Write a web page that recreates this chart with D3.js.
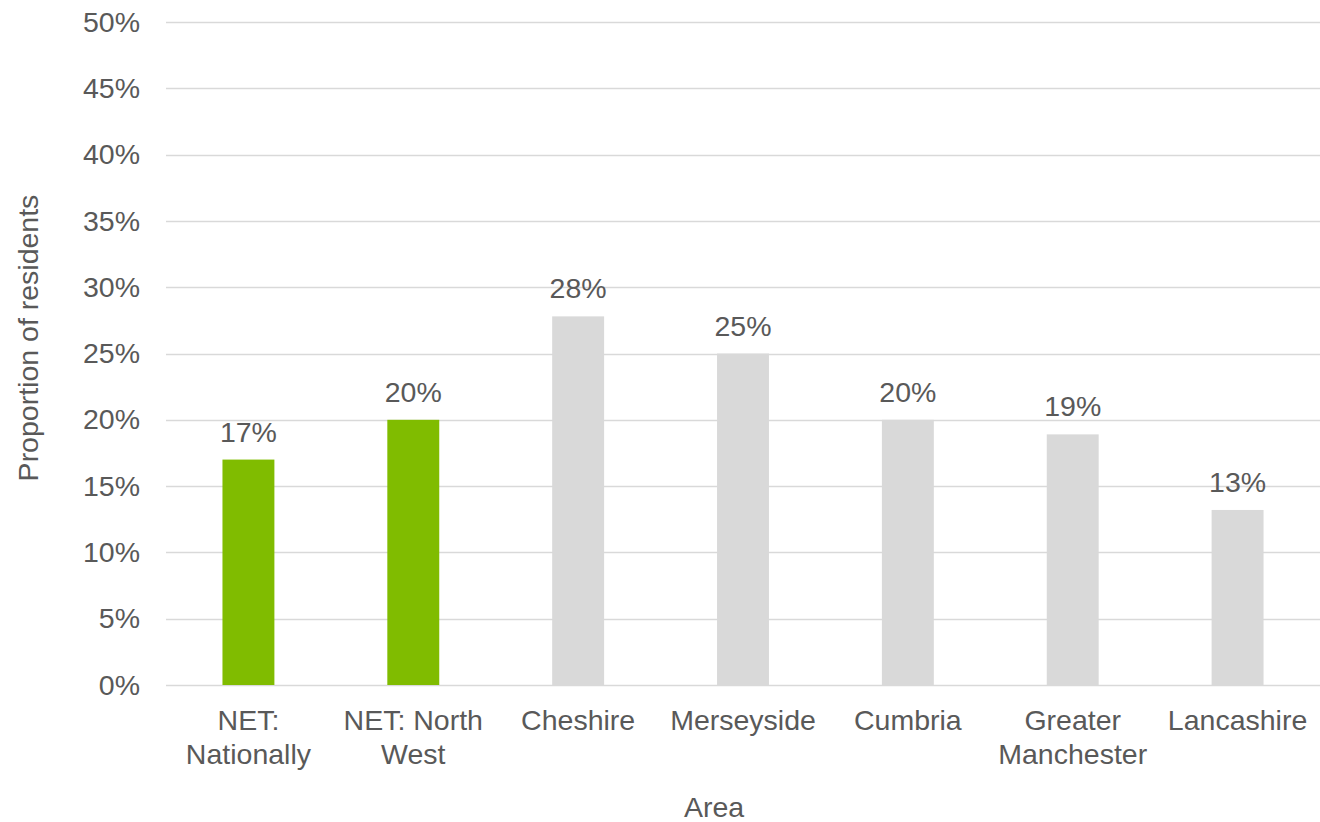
<!DOCTYPE html>
<html>
<head>
<meta charset="utf-8">
<script src="https://cdn.jsdelivr.net/npm/d3@7"></script>
<style>
  html, body { margin: 0; padding: 0; background: #fff; }
  svg { display: block; font-family: "Liberation Sans", Arial, sans-serif; }
</style>
</head>
<body>
<svg id="chart" width="1320" height="822"></svg>
<script>
// Share of residents by area
const categories = ["NET: Nationally", "NET: North West", "Cheshire", "Merseyside", "Cumbria", "Greater Manchester", "Lancashire"];
const values = [0.17, 0.20, 0.278, 0.25, 0.20, 0.189, 0.132];
const valueLabels = ["17%", "20%", "28%", "25%", "20%", "19%", "13%"];
const highlighted = ["NET: Nationally", "NET: North West"];
const yTicks = [0, 0.05, 0.10, 0.15, 0.20, 0.25, 0.30, 0.35, 0.40, 0.45, 0.50];

const svg = d3.select("#chart");
const margin = { left: 166, right: 0, top: 22, bottom: 137 };
const W = 1320, H = 822;
const textColor = "#595959";
const fontSize = 28.5;

const x = d3.scaleBand()
  .domain(categories)
  .range([margin.left, W - margin.right])
  .paddingInner(0.685)
  .paddingOuter(0.3425);

const y = d3.scaleLinear()
  .domain([0, 0.5])
  .range([H - margin.bottom, margin.top]);

// Gridlines
svg.append("g")
  .selectAll("line")
  .data(yTicks)
  .join("line")
  .attr("x1", margin.left)
  .attr("x2", W - margin.right)
  .attr("y1", d => Math.round(y(d)) + 0.5)
  .attr("y2", d => Math.round(y(d)) + 0.5)
  .attr("stroke", "#d9d9d9")
  .attr("stroke-width", 1.5);

// Y axis labels
const yAxis = d3.axisLeft(y)
  .tickValues(yTicks)
  .tickFormat(d3.format(".0%"))
  .tickSize(0)
  .tickPadding(26);
const yg = svg.append("g")
  .attr("transform", `translate(${margin.left},0)`)
  .call(yAxis);
yg.select(".domain").remove();
yg.selectAll("text")
  .attr("fill", textColor)
  .attr("font-size", fontSize)
  .attr("font-family", "Liberation Sans, Arial, sans-serif");

// Bars
svg.append("g")
  .selectAll("rect")
  .data(categories)
  .join("rect")
  .attr("x", d => x(d))
  .attr("width", x.bandwidth())
  .attr("y", (d, i) => y(values[i]))
  .attr("height", (d, i) => y(0) - y(values[i]))
  .attr("fill", d => highlighted.includes(d) ? "#80bc00" : "#d9d9d9");

// Value labels
svg.append("g")
  .selectAll("text")
  .data(categories)
  .join("text")
  .attr("x", d => x(d) + x.bandwidth() / 2)
  .attr("y", (d, i) => y(values[i]) - 18)
  .attr("text-anchor", "middle")
  .attr("fill", textColor)
  .attr("font-size", fontSize)
  .text((d, i) => valueLabels[i]);

// Category labels, wrapped to the band step
const xAxis = d3.axisBottom(x).tickSize(0).tickPadding(0);
const xg = svg.append("g")
  .attr("transform", `translate(0,${y(0)})`)
  .call(xAxis);
xg.select(".domain").remove();
xg.selectAll("text")
  .attr("fill", textColor)
  .attr("font-size", fontSize)
  .attr("font-family", "Liberation Sans, Arial, sans-serif")
  .attr("dy", null)
  .attr("y", 0)
  .each(function(d) {
    const t = d3.select(this);
    const words = d.split(" ");
    const maxW = x.step() - 4;
    const lines = [];
    let line = [];
    t.text(null);
    const probe = t.append("tspan");
    words.forEach(w => {
      const trial = line.concat(w).join(" ");
      probe.text(trial);
      if (probe.node().getComputedTextLength() > maxW && line.length) {
        lines.push(line.join(" "));
        line = [w];
      } else {
        line.push(w);
      }
    });
    lines.push(line.join(" "));
    probe.remove();
    lines.forEach((l, i) => {
      t.append("tspan")
        .attr("x", 0)
        .attr("y", 45 + i * 34)
        .text(l);
    });
  });

// Axis titles
svg.append("text")
  .attr("x", 714)
  .attr("y", 817)
  .attr("text-anchor", "middle")
  .attr("fill", textColor)
  .attr("font-size", fontSize)
  .text("Area");

svg.append("text")
  .attr("transform", `translate(38,338) rotate(-90)`)
  .attr("text-anchor", "middle")
  .attr("fill", textColor)
  .attr("font-size", fontSize)
  .text("Proportion of residents");
</script>
</body>
</html>
